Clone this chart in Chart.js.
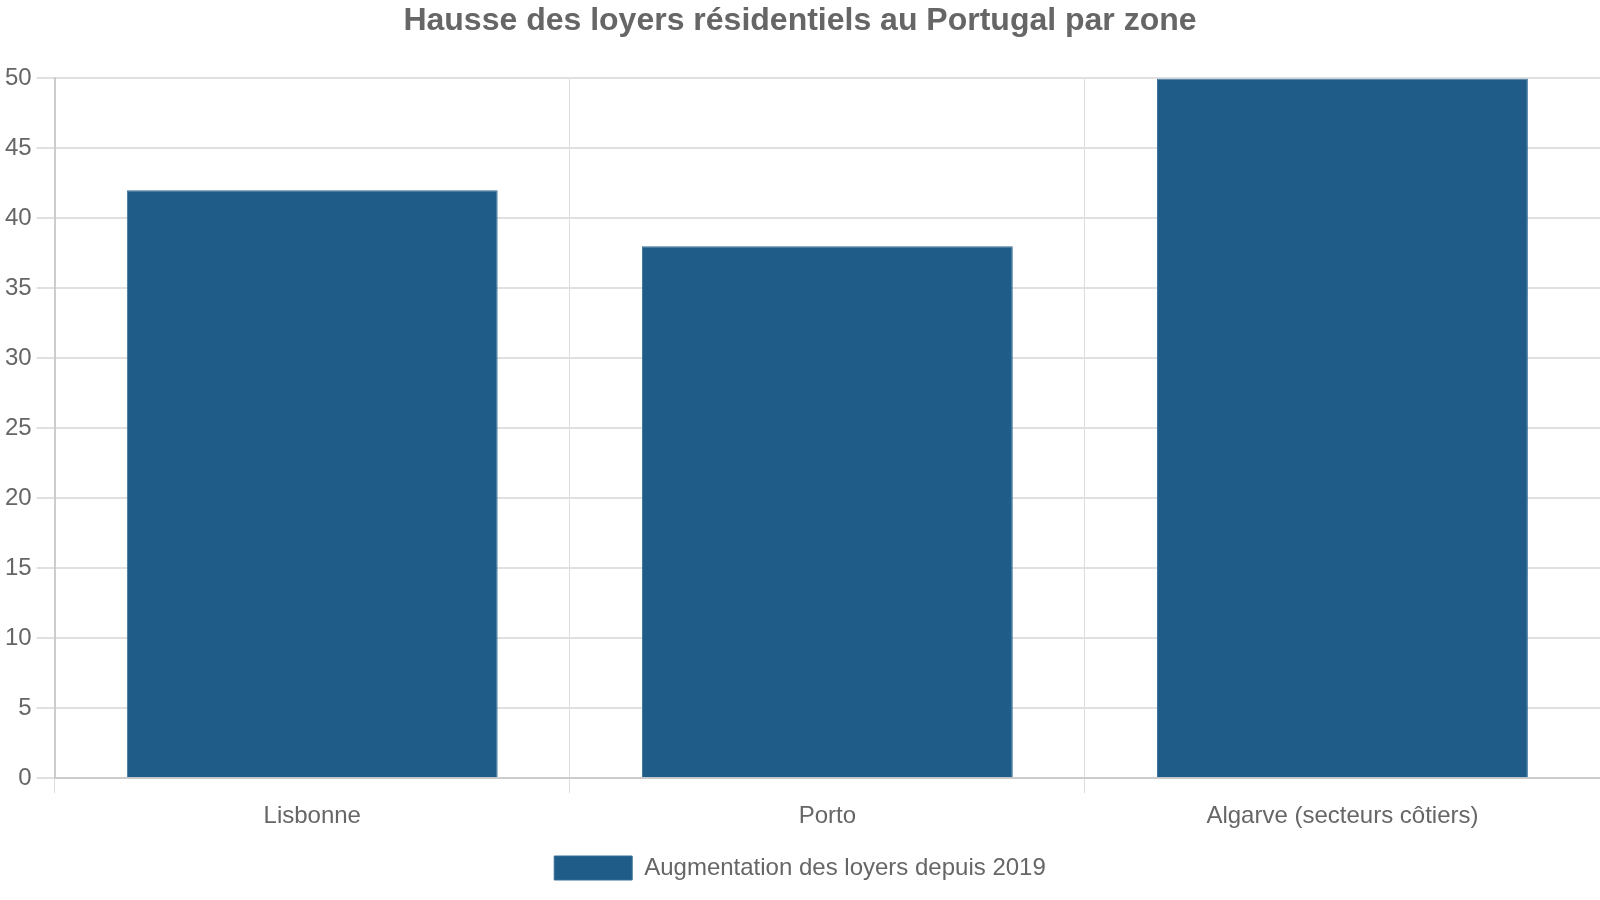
<!DOCTYPE html>
<html>
<head>
<meta charset="utf-8">
<script src="https://cdn.jsdelivr.net/npm/chart.js@4"></script>
<style>
  html, body { margin: 0; padding: 0; background: #fff; }
  #wrap { width: 1600px; height: 900px; }
</style>
</head>
<body>
<div id="wrap"><canvas id="chart"></canvas></div>
<script>
const zones = ['Lisbonne', 'Porto', 'Algarve (secteurs côtiers)'];
const hausse = [42, 38, 50];

const textColor = '#666666';
Chart.defaults.font.family = '"Liberation Sans", Arial, sans-serif';
Chart.defaults.color = textColor;

new Chart(document.getElementById('chart').getContext('2d'), {
  type: 'bar',
  data: {
    labels: zones,
    datasets: [
      {
        label: 'Augmentation des loyers depuis 2019',
        data: hausse,
        backgroundColor: '#1f5c87',
        borderColor: '#3b7199',
        borderWidth: 1,
      },
    ],
  },
  options: {
    responsive: true,
    maintainAspectRatio: false,
    animation: false,
    layout: {padding: {top: 0, right: 0, bottom: 10, left: 0}},
    plugins: {
      title: {
        display: true,
        text: 'Hausse des loyers résidentiels au Portugal par zone',
        font: {size: 32, weight: 'bold'},
        color: textColor,
        padding: {top: 2, bottom: 38},
      },
      legend: {
        position: 'bottom',
        labels: {
          boxWidth: 78,
          boxHeight: 24,
          font: {size: 24},
          color: textColor,
          padding: 16,
        },
      },
      tooltip: {enabled: false},
    },
    scales: {
      x: {
        grid: {color: '#dddddd', tickLength: 15},
        border: {color: '#cccccc', width: 2},
        ticks: {font: {size: 24}, color: textColor, padding: 9},
      },
      y: {
        beginAtZero: true,
        min: 0,
        max: 50,
        grid: {color: '#e0e0e0', lineWidth: 2, tickLength: 18},
        border: {color: '#cccccc', width: 2},
        ticks: {stepSize: 5, font: {size: 24}, color: textColor, padding: 5},
      },
    },
  },
});
</script>
</body>
</html>
